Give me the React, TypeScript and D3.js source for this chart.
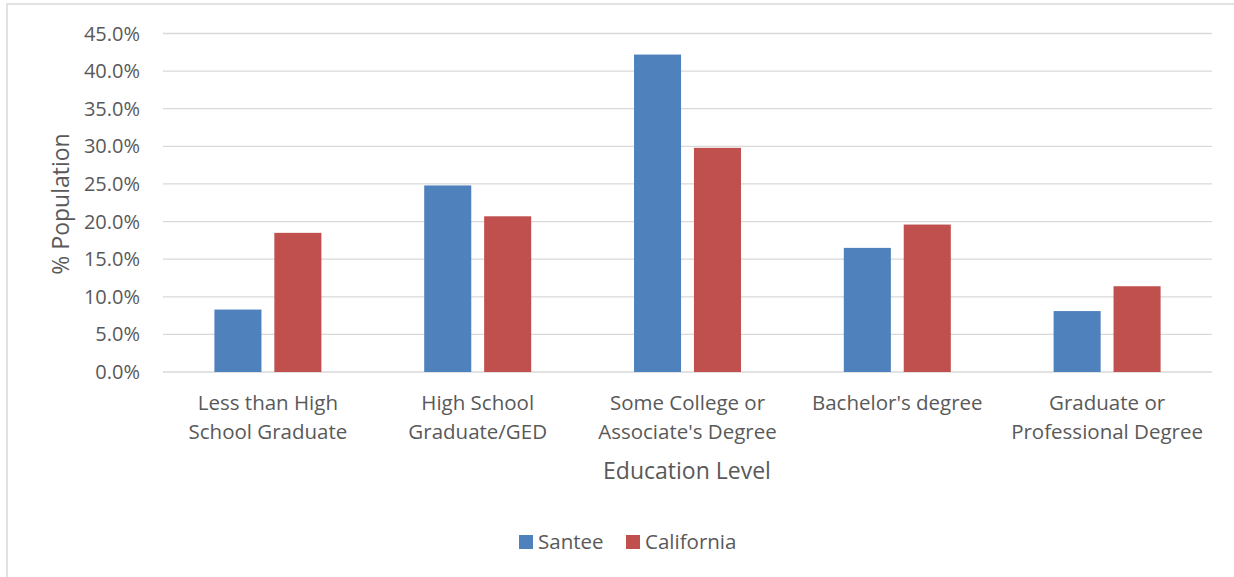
import React from "react";
import * as d3 from "d3";

const categories: string[][] = [
  ["Less than High", "School Graduate"],
  ["High School", "Graduate/GED"],
  ["Some College or", "Associate's Degree"],
  ["Bachelor's degree"],
  ["Graduate or", "Professional Degree"],
];
const santee = [8.3, 24.8, 42.2, 16.5, 8.1];
const california = [18.5, 20.7, 29.8, 19.6, 11.4];
const seriesNames = ["Santee", "California"];
const seriesColors = ["#4f81bd", "#c0504d"];
const yTicks = [0, 5, 10, 15, 20, 25, 30, 35, 40, 45];

const W = 1234;
const H = 577;
const FONT = "'Open Sans', 'Noto Sans', sans-serif";
const TXT = "#595959";

export default function App() {
  const left = 163, right = 1212, top = 33.5, bottom = 372;
  const x0 = d3.scaleBand<number>().domain(d3.range(categories.length)).range([left, right]).paddingInner(0).paddingOuter(0);
  const x1 = d3.scaleBand<number>().domain([0, 1]).range([0, 107]).paddingInner(0.215);
  const y = d3.scaleLinear().domain([0, 45]).range([bottom, top]);
  const series = [santee, california];
  const groupOffset = (x0.bandwidth() - 107) / 2;

  return (
    <div style={{ position: "absolute", left: 0, top: 0 }}>
      <svg width={W} height={H} style={{ display: "block", background: "#fff" }}>
        <rect x={7} y={4} width={1240} height={620} fill="#fff" stroke="#d9d9d9" strokeWidth={1.5} />
        {yTicks.map((t) => (
          <g key={t}>
            <line x1={left} x2={right} y1={y(t)} y2={y(t)} stroke="#d9d9d9" strokeWidth={1.3} />
            <text x={140} y={y(t)} dy="0.35em" textAnchor="end" fontFamily={FONT} fontSize={20} fill={TXT}>
              {t.toFixed(1)}%
            </text>
          </g>
        ))}
        {series.map((vals, si) =>
          vals.map((v, ci) => (
            <rect
              key={`${si}-${ci}`}
              x={(x0(ci) as number) + groupOffset + (x1(si) as number)}
              y={y(v)}
              width={x1.bandwidth()}
              height={bottom - y(v)}
              fill={seriesColors[si]}
            />
          ))
        )}
        {categories.map((lines, ci) => (
          <text key={ci} x={(x0(ci) as number) + x0.bandwidth() / 2} y={403} textAnchor="middle" fontFamily={FONT} fontSize={20.5} fill={TXT}>
            {lines.map((l, li) => (
              <tspan key={li} x={(x0(ci) as number) + x0.bandwidth() / 2} dy={li === 0 ? "0.35em" : 29}>
                {l}
              </tspan>
            ))}
          </text>
        ))}
        <text x={687} y={471} dy="0.35em" textAnchor="middle" fontFamily={FONT} fontSize={23} fill={TXT}>
          Education Level
        </text>
        <text transform={`translate(61,204) rotate(-90)`} dy="0.35em" textAnchor="middle" fontFamily={FONT} fontSize={23} fill={TXT}>
          % Population
        </text>
        {seriesNames.map((name, i) => {
          const lx = i === 0 ? 519 : 626;
          return (
            <g key={name}>
              <rect x={lx} y={535} width={14} height={14} fill={seriesColors[i]} />
              <text x={lx + 19} y={542} dy="0.35em" fontFamily={FONT} fontSize={20.5} fill={TXT}>
                {name}
              </text>
            </g>
          );
        })}
      </svg>
    </div>
  );
}
